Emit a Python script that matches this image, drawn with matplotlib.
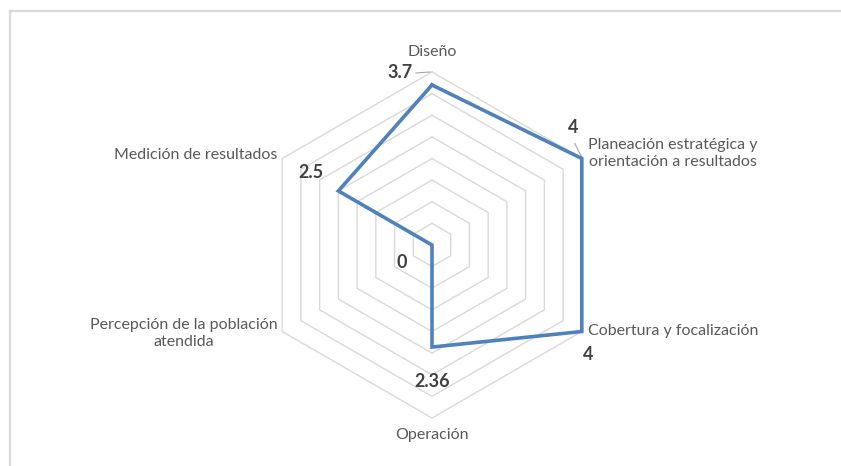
import numpy as np
import matplotlib
matplotlib.use("Agg")
import matplotlib.pyplot as plt

categories = ["Diseño", "Planeación estratégica y\norientación a resultados",
              "Cobertura y focalización", "Operación",
              "Percepción de la población\natendida", "Medición de resultados"]
values = [3.7, 4, 4, 2.36, 0, 2.5]
value_labels = ["3.7", "4", "4", "2.36", "0", "2.5"]
rings = [0.5, 1, 1.5, 2, 2.5, 3, 3.5, 4]

W, H = 841, 466
cx, cy = 432, 245          # centre in pixels
scale = 173 / 4            # pixels per unit

plt.rcParams['font.family'] = ['Lato', 'DejaVu Sans']

fig = plt.figure(figsize=(W / 100, H / 100), dpi=100)
ax = fig.add_axes([0, 0, 1, 1])
ax.set_xlim(-cx / scale, (W - cx) / scale)
ax.set_ylim(-(H - cy) / scale, cy / scale)
ax.axis('off')

# frame (only left/top visible in the crop)
fig.add_artist(plt.Line2D([10 / W, 10 / W], [0, 1 - 11 / H], color='#d9d9d9', lw=1.6))
fig.add_artist(plt.Line2D([10 / W, 1], [1 - 11 / H, 1 - 11 / H], color='#d9d9d9', lw=1.6))

n = len(categories)
angles = np.pi / 2 - np.arange(n) * 2 * np.pi / n
ca, sa = np.cos(angles), np.sin(angles)

def closed(r):
    x, y = r * ca, r * sa
    return np.append(x, x[0]), np.append(y, y[0])

for r in rings:
    ax.plot(*closed(r), color='#d9d9d9', lw=1.0, zorder=1)

v = np.array(values)
ax.plot(*closed(v), color='#4f81bd', lw=2.6, solid_joinstyle='miter', zorder=3)

# category labels, offsets in pixels from outer vertex
cat_off = [(0, 20, 'center'), (6, 5, 'left'), (6, 0, 'left'),
           (0, -17, 'center'), (-5, -2, 'right'), (-5, 3, 'right')]
for i, lab in enumerate(categories):
    dx, dy, ha = cat_off[i]
    ax.annotate(lab, (4 * ca[i], 4 * sa[i]), xytext=(dx, dy),
                textcoords='offset pixels', ha=ha, va='center',
                multialignment='center', fontsize=11.5, color='#595959',
                linespacing=1.25)

# data labels
val_off = [(-32, 12), (-9, 31), (6, -23), (0, -34), (-30, -17), (-27, 18)]
for i, lab in enumerate(value_labels):
    ax.annotate(lab, (values[i] * ca[i], values[i] * sa[i]), xytext=val_off[i],
                textcoords='offset pixels', ha='center', va='center',
                fontsize=13, fontweight='bold', color='#404040')

# leader lines for the two top labels
for i, (x0, y0, x1, y1) in [(0, (-16, 12, -2, 13)), (1, (-7, 15, 0, 1))]:
    px, py = values[i] * ca[i], values[i] * sa[i]
    ax.plot([px + x0 / scale, px + x1 / scale], [py + y0 / scale, py + y1 / scale],
            color='#a6a6a6', lw=0.8, zorder=2)

fig.savefig("out.png", dpi=100)
